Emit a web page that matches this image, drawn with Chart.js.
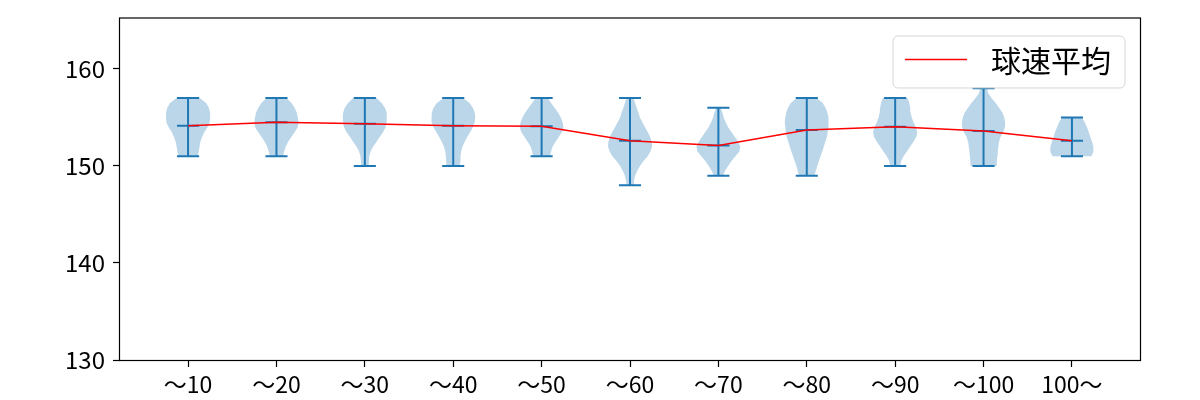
<!DOCTYPE html>
<html>
<head>
<meta charset="utf-8">
<script src="https://cdn.jsdelivr.net/npm/chart.js@4.4.1/dist/chart.umd.min.js"></script>
<style>
html,body{margin:0;padding:0;background:#fff;}
#wrap{width:1200px;height:400px;}
</style>
</head>
<body>
<div id="wrap"><canvas id="c" width="1200" height="400"></canvas></div>
<script>
// ---- data ----
const categories = ['〜10','〜20','〜30','〜40','〜50','〜60','〜70','〜80','〜90','〜100','100〜'];
const mins  = [151, 151, 150, 150, 151, 148, 149, 149, 150, 150, 151];
const maxs  = [157, 157, 157, 157, 157, 157, 156, 157, 157, 158, 155];
const means = [154.15, 154.5, 154.35, 154.15, 154.1, 152.6, 152.1, 153.7, 154.05, 153.6, 152.6];
const yTicks = [130, 140, 150, 160];
const seriesLabel = '球速平均';
// relative violin half-widths, sampled every 0.5 km/h from min to max
const densityStep = 0.5;
const density10  = [0.44,0.48,0.52,0.56,0.64,0.74,0.88,0.98,1.00,1.00,0.94,0.82,0.52];
const density20  = [0.30,0.35,0.42,0.53,0.68,0.83,0.96,1.00,0.97,0.92,0.82,0.68,0.45];
const density30  = [0.17,0.18,0.20,0.26,0.38,0.53,0.68,0.83,0.94,0.98,1.00,0.98,0.91,0.76,0.53];
const density40  = [0.30,0.32,0.33,0.36,0.42,0.52,0.64,0.77,0.89,0.97,1.00,0.97,0.89,0.74,0.44];
const density50  = [0.39,0.43,0.50,0.63,0.78,0.92,0.99,0.95,0.87,0.74,0.59,0.43,0.28];
const density60  = [0.15,0.18,0.23,0.33,0.45,0.61,0.80,0.92,1.00,0.98,0.91,0.80,0.68,0.56,0.45,0.38,0.30,0.23,0.16];
const density70  = [0.21,0.30,0.44,0.59,0.77,0.95,0.99,0.89,0.74,0.59,0.44,0.33,0.24,0.18,0.10];
const density80  = [0.35,0.41,0.47,0.55,0.62,0.70,0.77,0.84,0.91,0.95,0.97,1.00,0.97,0.93,0.85,0.72,0.45];
const density90  = [0.23,0.27,0.38,0.53,0.68,0.83,0.96,1.00,0.94,0.83,0.75,0.70,0.68,0.64,0.56];
const density100 = [0.59,0.60,0.62,0.64,0.67,0.70,0.77,0.89,0.97,0.98,0.94,0.85,0.70,0.55,0.36,0.21,0.15];
const density100p= [0.88,0.98,0.97,0.91,0.83,0.76,0.68,0.58,0.45];
const densities = [density10,density20,density30,density40,density50,density60,density70,density80,density90,density100,density100p];

// ---- styling ----
const BLUE = '#1f77b4';
const VIOLIN_FILL = 'rgba(31,119,180,0.3)';
const HALF_WIDTH = 0.25;   // violin max half width in x units
const CAP_HALF = 0.125;    // cap half width in x units
const FONT = '"Noto Sans CJK JP", "Noto Sans", sans-serif';

const datasets = [];

// mean line (drawn on top)
datasets.push({
  label: seriesLabel,
  data: means.map((m, i) => ({x: i + 1, y: m})),
  borderColor: 'red',
  borderWidth: 1.5,
  pointRadius: 0,
  fill: false,
  tension: 0,
  order: 0
});

// whiskers and caps (min, max, mean)
const whisker = [];
categories.forEach((c, i) => {
  const p = i + 1;
  [maxs[i], mins[i], means[i]].forEach(v => {
    whisker.push({x: p - CAP_HALF, y: v}, {x: p + CAP_HALF, y: v}, {x: p, y: null});
  });
  whisker.push({x: p, y: mins[i]}, {x: p, y: maxs[i]}, {x: p, y: null});
});
datasets.push({
  label: 'whiskers',
  data: whisker,
  borderColor: BLUE,
  borderWidth: 2,
  pointRadius: 0,
  spanGaps: false,
  fill: false,
  tension: 0,
  order: 1
});

// violin bodies
densities.forEach((d, i) => {
  const p = i + 1;
  const right = d.map((w, k) => ({x: p + HALF_WIDTH * w, y: mins[i] + k * densityStep}));
  const left = d.map((w, k) => ({x: p - HALF_WIDTH * w, y: mins[i] + k * densityStep})).reverse();
  datasets.push({
    label: 'violin ' + categories[i],
    data: right.concat(left),
    borderWidth: 0,
    borderColor: 'rgba(0,0,0,0)',
    backgroundColor: VIOLIN_FILL,
    pointRadius: 0,
    fill: 'shape',
    tension: 0,
    order: 2
  });
});

const framePlugin = {
  id: 'frame',
  afterDatasetsDraw(chart) {
    const {ctx, chartArea: a} = chart;
    ctx.save();
    ctx.strokeStyle = '#000';
    ctx.lineWidth = 1.2;
    ctx.strokeRect(a.left - 0.5, a.top - 0.5, a.right - a.left + 1, a.bottom - a.top + 1);
    ctx.restore();
  }
};

const legendPlugin = {
  id: 'boxLegend',
  afterDraw(chart) {
    const {ctx, chartArea: a} = chart;
    const w = 232, h = 52, r = 5;
    const x = a.right - 15 - w, y = a.top + 17.5;
    ctx.save();
    ctx.beginPath();
    ctx.moveTo(x + r, y);
    ctx.lineTo(x + w - r, y);
    ctx.arcTo(x + w, y, x + w, y + r, r);
    ctx.lineTo(x + w, y + h - r);
    ctx.arcTo(x + w, y + h, x + w - r, y + h, r);
    ctx.lineTo(x + r, y + h);
    ctx.arcTo(x, y + h, x, y + h - r, r);
    ctx.lineTo(x, y + r);
    ctx.arcTo(x, y, x + r, y, r);
    ctx.closePath();
    ctx.fillStyle = 'rgba(255,255,255,0.8)';
    ctx.fill();
    ctx.strokeStyle = 'rgba(204,204,204,0.8)';
    ctx.lineWidth = 1;
    ctx.stroke();
    const ly = y + 23.5;
    ctx.beginPath();
    ctx.moveTo(x + 12, ly);
    ctx.lineTo(x + 74, ly);
    ctx.strokeStyle = 'red';
    ctx.lineWidth = 1.5;
    ctx.stroke();
    ctx.fillStyle = '#000';
    ctx.font = '30px ' + FONT;
    ctx.textBaseline = 'middle';
    ctx.textAlign = 'left';
    ctx.fillText(seriesLabel, x + 98, ly + 1);
    ctx.restore();
  }
};

new Chart(document.getElementById('c'), {
  type: 'line',
  data: {datasets},
  options: {
    responsive: false,
    animation: false,
    events: [],
    layout: {padding: {left: 0, right: 60, top: 18.5, bottom: 0}},
    plugins: {legend: {display: false}, tooltip: {enabled: false}},
    scales: {
      x: {
        type: 'linear',
        min: 0.23,
        max: 11.77,
        border: {display: false},
        grid: {display: true, drawOnChartArea: false, drawTicks: true, tickLength: 7, tickColor: '#000', tickWidth: 1.2},
        afterBuildTicks: s => { s.ticks = categories.map((c, i) => ({value: i + 1})); },
        afterFit: s => { s.height = 40; s.paddingLeft = 0; s.paddingRight = 0; },
        ticks: {
          autoSkip: false, maxRotation: 0, minRotation: 0,
          color: '#000', padding: 3,
          font: {family: FONT, size: 23},
          callback: (v, idx) => categories[idx]
        }
      },
      y: {
        type: 'linear',
        min: 130,
        max: 165.2,
        border: {display: false},
        grid: {display: true, drawOnChartArea: false, drawTicks: true, tickLength: 7, tickColor: '#000', tickWidth: 1.2},
        afterBuildTicks: s => { s.ticks = yTicks.map(v => ({value: v})); },
        afterFit: s => { s.width = 120; s.paddingTop = 0; s.paddingBottom = 0; },
        ticks: {
          color: '#000', padding: 8,
          font: {family: FONT, size: 24},
          callback: v => String(v)
        }
      }
    }
  },
  plugins: [framePlugin, legendPlugin]
});
</script>
</body>
</html>
